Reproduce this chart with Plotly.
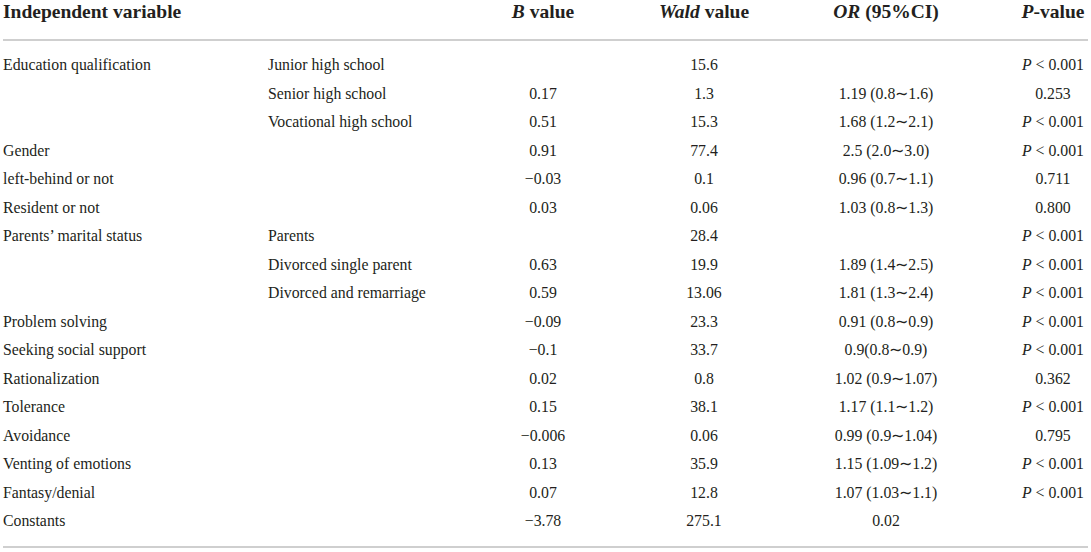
import plotly.graph_objects as go

# ─── 表格数据 ────────────────────────────────────────────────────────────────
headers = [
    "<b>Independent variable</b>",
    "",
    "<b><i>B</i> value</b>",
    "<b><i>Wald</i> value</b>",
    "<b><i>OR</i> (95%CI)</b>",
    "<b><i>P</i>-value</b>",
]

variables = [
    "Education qualification", "", "", "Gender", "left-behind or not",
    "Resident or not", "Parents’ marital status", "", "", "Problem solving",
    "Seeking social support", "Rationalization", "Tolerance", "Avoidance",
    "Venting of emotions", "Fantasy/denial", "Constants",
]
subgroups = [
    "Junior high school", "Senior high school", "Vocational high school",
    "", "", "", "Parents", "Divorced single parent", "Divorced and remarriage",
    "", "", "", "", "", "", "", "",
]
b_values = [
    "", "0.17", "0.51", "0.91", "−0.03", "0.03", "", "0.63", "0.59",
    "−0.09", "−0.1", "0.02", "0.15", "−0.006", "0.13", "0.07", "−3.78",
]
wald_values = [
    "15.6", "1.3", "15.3", "77.4", "0.1", "0.06", "28.4", "19.9", "13.06",
    "23.3", "33.7", "0.8", "38.1", "0.06", "35.9", "12.8", "275.1",
]
or_ci = [
    "", "1.19 (0.8∼1.6)", "1.68 (1.2∼2.1)", "2.5 (2.0∼3.0)", "0.96 (0.7∼1.1)",
    "1.03 (0.8∼1.3)", "", "1.89 (1.4∼2.5)", "1.81 (1.3∼2.4)", "0.91 (0.8∼0.9)",
    "0.9(0.8∼0.9)", "1.02 (0.9∼1.07)", "1.17 (1.1∼1.2)", "0.99 (0.9∼1.04)",
    "1.15 (1.09∼1.2)", "1.07 (1.03∼1.1)", "0.02",
]
P_SIG = "<i>P</i> < 0.001"
p_values = [
    P_SIG, "0.253", P_SIG, P_SIG, "0.711", "0.800", P_SIG, P_SIG, P_SIG,
    P_SIG, P_SIG, "0.362", P_SIG, "0.795", P_SIG, P_SIG, "",
]

# ─── 版式 ────────────────────────────────────────────────────────────────────
W, H = 1091, 552
FONT = "Liberation Serif"
TEXT_COLOR = "#231f20"
LINE_COLOR = "#cfcfcf"

HEADER_Y = 13
ROW0_Y = 66.5
ROW_STEP = 28.5
rows_y = [ROW0_Y + i * ROW_STEP for i in range(len(variables))]

# (数据列, x 位置, 对齐)
columns = [
    (variables, 3, "left"),
    (subgroups, 268, "left"),
    (b_values, 543, "center"),
    (wald_values, 704, "center"),
    (or_ci, 886, "center"),
    (p_values, 1053, "center"),
]

fig = go.Figure()

for (values, x, align), head in zip(columns, headers):
    pos = "middle right" if align == "left" else "middle center"
    fig.add_trace(go.Scatter(
        x=[x] * (len(values) + 1),
        y=[HEADER_Y] + rows_y,
        text=[head] + values,
        mode="text",
        textposition=pos,
        textfont=dict(family=FONT, size=[19.5] + [15.8] * len(values), color=TEXT_COLOR),
        hoverinfo="skip",
        showlegend=False,
        cliponaxis=False,
    ))

# 表头下横线与表底横线
for y in (40, 547):
    fig.add_shape(type="line", x0=3, x1=1088, y0=y, y1=y, xref="x", yref="y",
                  line=dict(color=LINE_COLOR, width=2))

fig.update_layout(
    width=W, height=H,
    margin=dict(l=0, r=0, t=0, b=0),
    paper_bgcolor="white",
    plot_bgcolor="white",
    xaxis=dict(range=[0, W], visible=False, fixedrange=True),
    yaxis=dict(range=[H, 0], visible=False, fixedrange=True),
)

# 去掉页面默认 8px 边距
fig.write_html(
    "out.html",
    config={"displayModeBar": False},
    post_script="document.body.style.margin='0';document.body.style.overflow='hidden';",
)
